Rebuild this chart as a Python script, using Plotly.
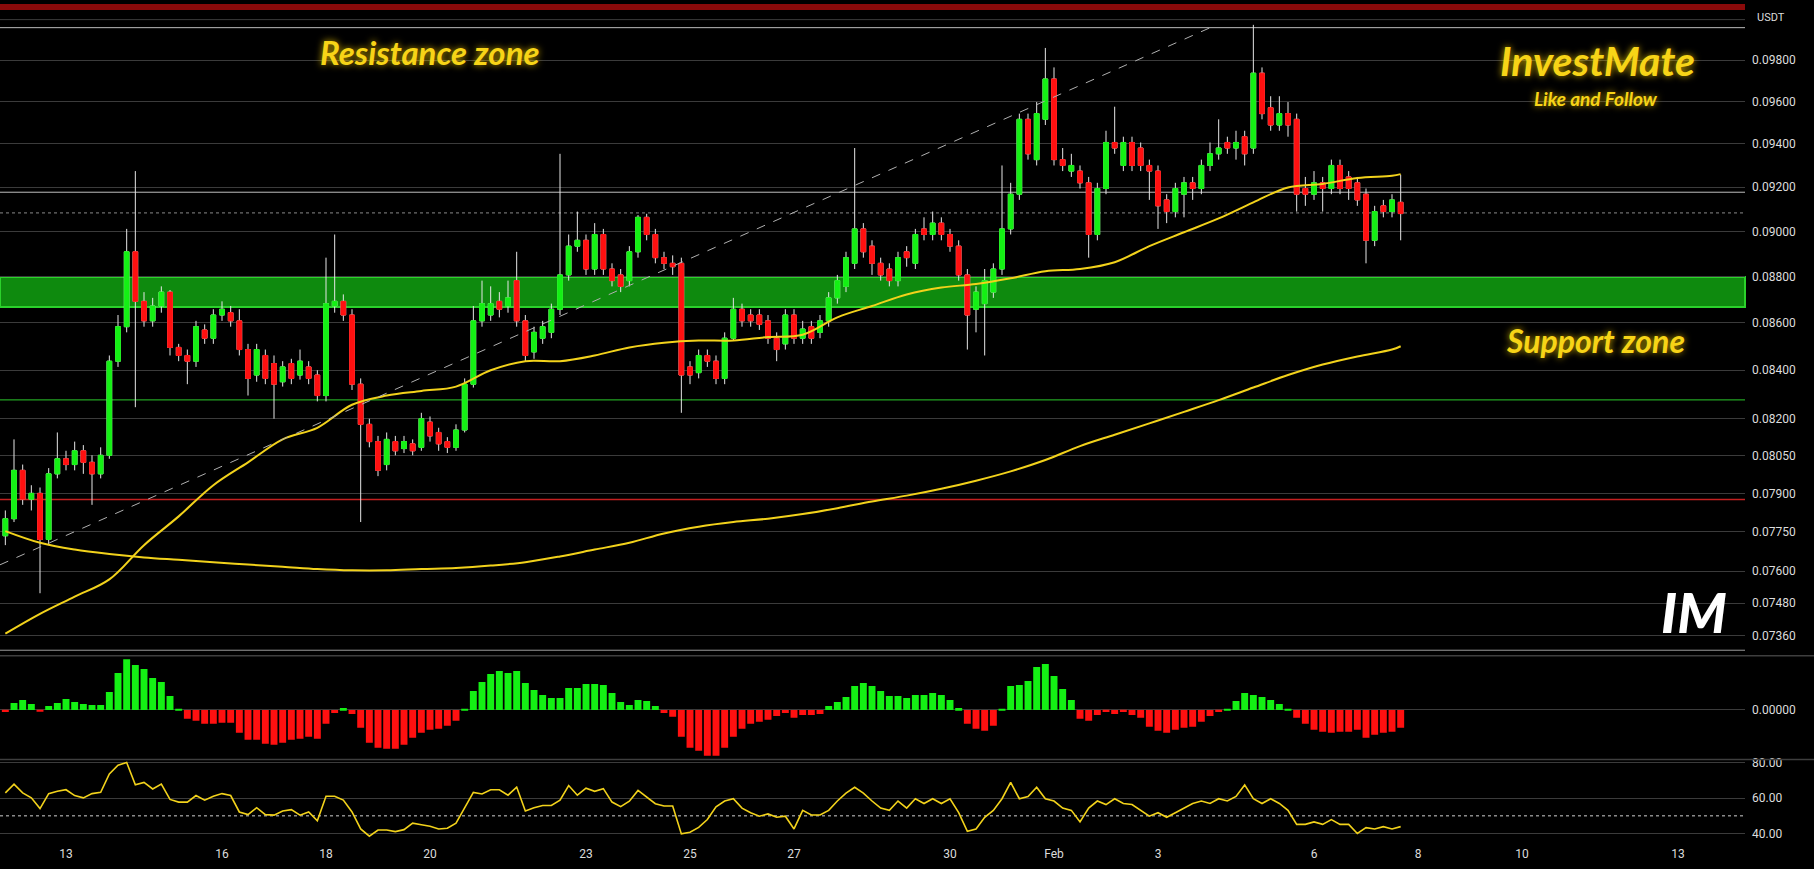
import math
import pandas as pd
import plotly.graph_objects as go
from plotly.subplots import make_subplots

# ---------------- data (4h candles, USDT) ----------------
open_ = [0.07735,0.07801,0.07991,0.07877,0.07900,0.07721,0.07977,0.08037,0.08014,0.08069,
         0.08023,0.07977,0.08051,0.08437,0.08583,0.08909,0.08692,0.08608,0.08672,0.08732,
         0.08495,0.08461,0.08437,0.08569,0.08534,0.08633,0.08643,0.08608,0.08486,0.08379,
         0.08461,0.08427,0.08351,0.08427,0.08379,0.08413,0.08379,0.08294,0.08672,0.08692,
         0.08633,0.08341,0.08176,0.08106,0.08014,0.08106,0.08078,0.08097,0.08083,0.08185,
         0.08143,0.08106,0.08083,0.08153,0.08341,0.08608,0.08633,0.08692,0.08672,0.08782,
         0.08608,0.08476,0.08534,0.08559,0.08658,0.08807,0.08934,0.08960,0.08833,0.08986,
         0.08833,0.08807,0.08782,0.08909,0.09063,0.08986,0.08883,0.08858,0.08858,0.08413,
         0.08389,0.08461,0.08437,0.08365,0.08534,0.08658,0.08633,0.08633,0.08608,0.08534,
         0.08510,0.08633,0.08534,0.08583,0.08559,0.08608,0.08707,0.08757,0.08858,0.09011,
         0.08934,0.08858,0.08833,0.08782,0.08909,0.08858,0.09011,0.08986,0.09037,0.08986,
         0.08934,0.08807,0.08658,0.08682,0.08732,0.08833,0.09011,0.09168,0.09516,0.09327,
         0.09516,0.09709,0.09327,0.09274,0.09274,0.09220,0.08986,0.09194,0.09407,0.09300,
         0.09407,0.09381,0.09300,0.09274,0.09142,0.09089,0.09168,0.09220,0.09194,0.09300,
         0.09354,0.09407,0.09381,0.09434,0.09381,0.09737,0.09571,0.09489,0.09543,0.09516,
         0.09194,0.09168,0.09220,0.09194,0.09300,0.09247,0.09220,0.09168,0.08960,0.09115,
         0.09089,0.09131]
high = [0.07833,0.08115,0.08014,0.07932,0.07923,0.08000,0.08143,0.08069,0.08106,0.08092,
        0.08051,0.08083,0.08461,0.08633,0.09011,0.09274,0.08732,0.08707,0.08757,0.08741,
        0.08510,0.08486,0.08608,0.08593,0.08658,0.08692,0.08672,0.08658,0.08510,0.08510,
        0.08486,0.08461,0.08437,0.08447,0.08486,0.08437,0.08399,0.08883,0.08986,0.08722,
        0.08658,0.08365,0.08199,0.08129,0.08143,0.08129,0.08129,0.08115,0.08223,0.08208,
        0.08162,0.08124,0.08176,0.08365,0.08672,0.08782,0.08757,0.08732,0.08782,0.08909,
        0.08633,0.08583,0.08608,0.08682,0.09354,0.08986,0.09089,0.08986,0.09037,0.09011,
        0.08858,0.08833,0.08934,0.09073,0.09079,0.09011,0.08909,0.08893,0.08883,0.08437,
        0.08486,0.08486,0.08461,0.08559,0.08707,0.08682,0.08658,0.08658,0.08633,0.08559,
        0.08658,0.08658,0.08608,0.08608,0.08633,0.08732,0.08807,0.08909,0.09381,0.09037,
        0.08960,0.08883,0.08858,0.08909,0.08934,0.09011,0.09063,0.09089,0.09063,0.09011,
        0.08960,0.08833,0.08757,0.08833,0.08858,0.09300,0.09220,0.09543,0.09543,0.09598,
        0.09860,0.09765,0.09381,0.09354,0.09300,0.09247,0.09220,0.09462,0.09576,0.09434,
        0.09434,0.09407,0.09327,0.09300,0.09168,0.09220,0.09247,0.09247,0.09327,0.09407,
        0.09516,0.09434,0.09462,0.09462,0.09974,0.09765,0.09626,0.09626,0.09598,0.09543,
        0.09247,0.09274,0.09247,0.09327,0.09327,0.09274,0.09247,0.09194,0.09115,0.09142,
        0.09168,0.09257]
low = [0.07699,0.07788,0.07855,0.07833,0.07517,0.07699,0.07959,0.07991,0.07991,0.07977,
       0.07855,0.07959,0.08037,0.08413,0.08559,0.08246,0.08583,0.08583,0.08643,0.08461,
       0.08437,0.08341,0.08413,0.08510,0.08510,0.08608,0.08583,0.08461,0.08294,0.08351,
       0.08341,0.08199,0.08331,0.08341,0.08360,0.08341,0.08270,0.08270,0.08643,0.08608,
       0.08317,0.07788,0.08083,0.07968,0.07991,0.08051,0.08060,0.08051,0.08069,0.08106,
       0.08069,0.08060,0.08069,0.08143,0.08327,0.08583,0.08608,0.08623,0.08643,0.08583,
       0.08437,0.08447,0.08510,0.08534,0.08633,0.08782,0.08909,0.08807,0.08807,0.08807,
       0.08757,0.08732,0.08757,0.08883,0.08960,0.08858,0.08833,0.08807,0.08223,0.08341,
       0.08365,0.08413,0.08341,0.08341,0.08524,0.08583,0.08583,0.08569,0.08510,0.08437,
       0.08486,0.08510,0.08510,0.08510,0.08534,0.08583,0.08682,0.08732,0.08833,0.08883,
       0.08807,0.08782,0.08757,0.08757,0.08843,0.08833,0.08960,0.08960,0.08960,0.08909,
       0.08782,0.08486,0.08559,0.08461,0.08707,0.08807,0.08986,0.09142,0.09327,0.09300,
       0.09489,0.09300,0.09274,0.09247,0.09194,0.08883,0.08960,0.09168,0.09354,0.09274,
       0.09274,0.09274,0.09142,0.09011,0.09037,0.09063,0.09063,0.09142,0.09168,0.09274,
       0.09327,0.09354,0.09327,0.09300,0.09354,0.09516,0.09462,0.09462,0.09434,0.09089,
       0.09115,0.09142,0.09089,0.09168,0.09168,0.09142,0.09115,0.08858,0.08934,0.09063,
       0.09063,0.08960]
close = [0.07801,0.07991,0.07877,0.07900,0.07721,0.07977,0.08037,0.08014,0.08069,0.08023,
         0.07977,0.08051,0.08437,0.08583,0.08909,0.08692,0.08608,0.08672,0.08732,0.08495,
         0.08461,0.08437,0.08583,0.08534,0.08633,0.08658,0.08608,0.08486,0.08365,0.08486,
         0.08365,0.08341,0.08413,0.08365,0.08437,0.08365,0.08294,0.08682,0.08692,0.08633,
         0.08341,0.08176,0.08106,0.07991,0.08115,0.08069,0.08106,0.08069,0.08199,0.08129,
         0.08097,0.08083,0.08153,0.08341,0.08608,0.08682,0.08682,0.08658,0.08707,0.08608,
         0.08461,0.08559,0.08583,0.08658,0.08807,0.08934,0.08960,0.08833,0.08986,0.08833,
         0.08782,0.08757,0.08909,0.09063,0.08986,0.08883,0.08858,0.08843,0.08379,0.08379,
         0.08461,0.08437,0.08365,0.08534,0.08658,0.08608,0.08608,0.08593,0.08534,0.08486,
         0.08633,0.08534,0.08573,0.08534,0.08608,0.08707,0.08782,0.08883,0.09011,0.08909,
         0.08858,0.08807,0.08782,0.08883,0.08883,0.08986,0.08986,0.09037,0.08986,0.08934,
         0.08807,0.08633,0.08732,0.08782,0.08833,0.09011,0.09168,0.09516,0.09354,0.09543,
         0.09709,0.09327,0.09300,0.09300,0.09220,0.08986,0.09194,0.09407,0.09381,0.09407,
         0.09300,0.09300,0.09274,0.09115,0.09089,0.09194,0.09220,0.09194,0.09300,0.09354,
         0.09381,0.09381,0.09407,0.09354,0.09737,0.09543,0.09489,0.09543,0.09489,0.09168,
         0.09168,0.09220,0.09194,0.09300,0.09194,0.09194,0.09142,0.08960,0.09089,0.09089,
         0.09142,0.09080]

# moving averages, sampled every 4th candle (candle index -> value)
ma_idx = [0,4,8,12,16,20,24,28,32,36,40,44,48,52,56,60,64,68,72,76,80,84,88,92,96,
          100,104,108,112,116,120,124,128,132,136,140,144,148,152,156,160,161]
ma_fast = [0.07367,0.07440,0.07504,0.07569,0.07699,0.07810,0.07932,0.08023,0.08115,0.08162,
           0.08256,0.08294,0.08313,0.08331,0.08399,0.08437,0.08437,0.08461,0.08495,0.08515,
           0.08524,0.08524,0.08539,0.08549,0.08623,0.08672,0.08722,0.08752,0.08767,0.08792,
           0.08823,0.08833,0.08863,0.08934,0.08996,0.09058,0.09131,0.09199,0.09215,0.09242,
           0.09252,0.09260]
ma_slow = [0.07753,0.07708,0.07682,0.07665,0.07652,0.07643,0.07634,0.07625,0.07617,0.07608,
           0.07603,0.07603,0.07608,0.07612,0.07621,0.07634,0.07656,0.07682,0.07708,0.07744,
           0.07770,0.07788,0.07801,0.07819,0.07842,0.07868,0.07891,0.07918,0.07950,0.07987,
           0.08032,0.08088,0.08134,0.08180,0.08227,0.08275,0.08327,0.08379,0.08423,0.08457,
           0.08486,0.08500]

macd_hist = [-2,7,10,6,-1.3,4,7,11,8,6,5,5,18,37,51,45,41,32,28,14,
             0.3,-9,-11,-14,-14,-13,-13,-23,-30,-30,-34,-35,-33,-30,-29,-27,-29,-14,-3,2,
             -4,-18,-33,-38,-39,-39,-35,-28,-23,-20,-19,-16,-11,0.3,19,28,36,39,37,39,
             27,20,15,12,12,22,22,26,26,25,17,8,5,10,9,4,-3,-7,-27,-38,
             -41,-46,-46,-38,-27,-19,-14,-12,-10,-6,-3,-8,-5,-5,-4,4,8,13,24,27,
             24,19,14,14,12,15,15,17,15,10,2,-14,-19,-21,-16,0.3,24,25,29,43,
             46,34,21,10,-9,-11,-5,-2,-4,-2,-5,-8,-17,-21,-23,-20,-18,-17,-12,-6,
             -2,1,9,17,15,13,10,6,1,-8,-14,-20,-22,-23,-22,-22,-20,-28,-25,-23,
             -22,-18]
macd_hist = [v * 1e-5 for v in macd_hist]

rsi = [63.0,68.0,63.0,60.2,54.1,62.6,63.9,64.8,61.5,60.2,62.6,63.3,73.7,78.7,80.2,67.6,68.9,65.2,68.0,59.3,
       57.8,57.8,61.5,58.9,61.1,62.6,61.5,52.2,50.7,54.6,50.7,50.4,52.8,53.5,50.4,52.2,47.2,61.1,61.1,58.9,
       52.2,42.6,38.5,42.0,42.0,41.1,42.2,45.9,45.0,44.1,42.6,43.0,45.9,54.3,63.3,62.4,64.8,64.8,61.7,66.3,
       52.8,54.6,55.9,55.9,58.9,67.2,61.7,65.7,63.9,65.4,57.8,55.2,58.3,64.4,60.7,56.9,55.6,55.6,39.8,40.7,
       43.5,47.9,55.1,58.4,59.7,54.4,51.8,49.8,51.1,49.2,49.8,42.6,53.1,50.5,50.5,53.1,58.4,62.9,66.2,62.9,
       58.4,54.4,53.1,58.4,54.4,59.7,57.0,59.7,57.0,59.7,51.8,41.3,42.6,49.2,53.1,59.7,68.9,59.7,61.0,66.2,
       59.7,58.4,54.4,53.1,46.6,54.4,58.4,56.4,59.7,57.0,56.4,53.1,49.8,51.8,49.2,51.8,54.4,57.0,58.4,57.0,
       59.7,58.4,61.0,67.5,59.7,57.0,59.7,57.0,53.1,45.2,45.2,46.6,45.2,47.9,45.2,45.2,40.0,43.3,42.6,43.9,
       42.6,43.9]

price_ticks = [0.0736,0.0748,0.0760,0.0775,0.0790,0.0805,0.0820,0.0840,0.0860,0.0880,
               0.0900,0.0920,0.0940,0.0960,0.0980]
date_ticks = ["2023-01-13","2023-01-16","2023-01-18","2023-01-20","2023-01-23","2023-01-25",
              "2023-01-27","2023-01-30","2023-02-01","2023-02-03","2023-02-06","2023-02-08",
              "2023-02-10","2023-02-13"]
date_labels = ["13","16","18","20","23","25","27","30","Feb","3","6","8","10","13"]

support_zone = (0.08668, 0.08798)
green_line = 0.08276
red_line = 0.07876
white_lines = [0.09960, 0.09177]
last_price_line = 0.09083
trend_start = ("2023-01-11 17:32", 0.07624)
trend_end = ("2023-02-04 00:30", 0.09962)

# ---------------- figure ----------------
start = pd.Timestamp("2023-01-11 20:00")
times = [start + pd.Timedelta(hours=4 * i) for i in range(len(close))]
ma_times = [times[i] for i in ma_idx]

GREEN = "#14f014"
RED = "#ff1010"
YELLOW = "#f2d21b"
GRID = "#3b3b3b"
TXT = "#dcdcdc"

fig = make_subplots(rows=3, cols=1, shared_xaxes=True, vertical_spacing=0.0)

body_hi = [max(o, c) for o, c in zip(open_, close)]
body_lo = [min(o, c) for o, c in zip(open_, close)]

# wicks (white)
fig.add_trace(go.Candlestick(
    x=times, open=open_, high=high, low=low, close=close,
    increasing=dict(line=dict(color="#e6e6e6", width=1), fillcolor="#e6e6e6"),
    decreasing=dict(line=dict(color="#e6e6e6", width=1), fillcolor="#e6e6e6"),
    whiskerwidth=0, hoverinfo="skip"), row=1, col=1)
# bodies
fig.add_trace(go.Candlestick(
    x=times, open=open_, high=body_hi, low=body_lo, close=close,
    increasing=dict(line=dict(color=GREEN, width=1), fillcolor=GREEN),
    decreasing=dict(line=dict(color=RED, width=1), fillcolor=RED),
    whiskerwidth=0, hoverinfo="skip"), row=1, col=1)

fig.add_trace(go.Scatter(x=ma_times, y=ma_slow, mode="lines",
                         line=dict(color=YELLOW, width=2, shape="spline"), hoverinfo="skip"), row=1, col=1)
fig.add_trace(go.Scatter(x=ma_times, y=ma_fast, mode="lines",
                         line=dict(color=YELLOW, width=2, shape="spline"), hoverinfo="skip"), row=1, col=1)
fig.add_trace(go.Scatter(x=[trend_start[0], trend_end[0]], y=[trend_start[1], trend_end[1]],
                         mode="lines", line=dict(color="#b0b0b0", width=1, dash="dash"),
                         hoverinfo="skip"), row=1, col=1)

fig.add_trace(go.Bar(x=times, y=macd_hist,
                     marker=dict(color=[GREEN if v >= 0 else RED for v in macd_hist], line=dict(width=0)),
                     width=4 * 3600 * 1000 * 0.8, hoverinfo="skip"), row=2, col=1)

fig.add_trace(go.Scatter(x=times, y=rsi, mode="lines",
                         line=dict(color=YELLOW, width=1.6), hoverinfo="skip"), row=3, col=1)

x_range = ["2023-01-11 17:32", "2023-02-14 06:55"]
fig.update_xaxes(range=x_range, showgrid=False, zeroline=False, showline=False,
                 rangeslider_visible=False, ticks="")
fig.update_xaxes(showticklabels=False, row=1, col=1)
fig.update_xaxes(showticklabels=False, row=2, col=1)
fig.update_xaxes(tickvals=date_ticks, ticktext=date_labels,
                 tickfont=dict(color=TXT, size=12, family="Roboto"), row=3, col=1)

fig.update_layout(
    width=1814, height=869,
    margin=dict(l=0, r=69, t=0, b=24),
    paper_bgcolor="#000000", plot_bgcolor="#000000",
    showlegend=False, hovermode=False, boxgap=0.22,
    yaxis=dict(domain=[0.2284, 1], type="log", side="right",
               range=[math.log10(0.07297), math.log10(0.10078)],
               tickvals=price_ticks, ticktext=[f"{v:.5f}" for v in price_ticks],
               showgrid=True, gridcolor=GRID, gridwidth=1, zeroline=False, ticks="",
               tickfont=dict(color=TXT, size=12, family="Roboto"), ticklabelstandoff=6),
    yaxis2=dict(domain=[0.1030, 0.2249], side="right", range=[-0.000487, 0.000543],
                tickvals=[0], ticktext=["0.00000"], showgrid=True, gridcolor=GRID,
                zeroline=False, ticks="",
                tickfont=dict(color=TXT, size=12, family="Roboto"), ticklabelstandoff=6),
    yaxis3=dict(domain=[0, 0.1006], side="right", range=[33.5, 81.4],
                tickvals=[40, 60, 80], ticktext=["40.00", "60.00", "80.00"],
                showgrid=True, gridcolor=GRID, zeroline=False, ticks="",
                tickfont=dict(color=TXT, size=12, family="Roboto"), ticklabelstandoff=6),
)

shapes = []
# top red band
shapes.append(dict(type="rect", xref="paper", yref="paper", x0=0, x1=1, y0=0.9929, y1=1,
                   fillcolor="#8a0a0a", line=dict(width=0), layer="below"))
# line at 0.1000 (grid-like)
shapes.append(dict(type="line", xref="paper", yref="y", x0=0, x1=1, y0=0.1000, y1=0.1000,
                   line=dict(color=GRID, width=1), layer="below"))
for wl in white_lines:
    shapes.append(dict(type="line", xref="paper", yref="y", x0=0, x1=1, y0=wl, y1=wl,
                       line=dict(color="#bdbdbd", width=1), layer="below"))
shapes.append(dict(type="line", xref="paper", yref="y", x0=0, x1=1, y0=last_price_line, y1=last_price_line,
                   line=dict(color="#8a8a8a", width=1, dash="dot"), layer="below"))
shapes.append(dict(type="rect", xref="paper", yref="y", x0=0, x1=1,
                   y0=support_zone[0], y1=support_zone[1],
                   fillcolor="#0e8a0e", line=dict(color="#2bd12b", width=2), layer="below"))
shapes.append(dict(type="line", xref="paper", yref="y", x0=0, x1=1, y0=green_line, y1=green_line,
                   line=dict(color="#2bc92b", width=1), layer="below"))
shapes.append(dict(type="line", xref="paper", yref="y", x0=0, x1=1, y0=red_line, y1=red_line,
                   line=dict(color="#c42020", width=1.5), layer="below"))
# RSI 50 dotted
shapes.append(dict(type="line", xref="paper", yref="y3", x0=0, x1=1, y0=50, y1=50,
                   line=dict(color="#d0d0d0", width=1, dash="dot"), layer="below"))
# panel separators
shapes.append(dict(type="line", xref="paper", yref="paper", x0=0, x1=1, y0=0.2316, y1=0.2316,
                   line=dict(color="#9a9a9a", width=1)))
for yy in (0.2249, 0.1018):
    shapes.append(dict(type="line", xref="paper", yref="paper", x0=0, x1=1.04, y0=yy, y1=yy,
                       line=dict(color="#3e3e3e", width=1.5)))
fig.update_layout(shapes=shapes)

glow = "0px 0px 7px rgba(240,200,0,0.85)"
ann = [
    dict(text="Resistance zone", x=0.2464, y=0.9425, size=33),
    dict(text="InvestMate", x=0.9152, y=0.9325, size=41),
    dict(text="Like and Follow", x=0.9146, y=0.8876, size=19),
    dict(text="Support zone", x=0.9146, y=0.600, size=32),
]
for a in ann:
    fig.add_annotation(text=a["text"], x=a["x"], y=a["y"], xref="paper", yref="paper",
                       xanchor="center", yanchor="middle", showarrow=False,
                       font=dict(family="Lato", size=a["size"], color="#f7d417",
                                 weight="bold", style="italic", shadow=glow))
fig.add_annotation(text="IM", x=0.9708, y=0.2781, xref="paper", yref="paper",
                   xanchor="center", yanchor="middle", showarrow=False,
                   font=dict(family="Lato", size=56, color="#ffffff", weight=900, style="italic"))
fig.add_annotation(text="USDT", x=1.0057, y=0.9834, xref="paper", yref="paper",
                   xanchor="left", yanchor="middle", showarrow=False,
                   font=dict(family="Roboto", size=11, color=TXT))

fig.write_html("out.html", config={"displayModeBar": False},
               post_script="document.body.style.margin='0px';document.body.style.overflow='hidden';")
